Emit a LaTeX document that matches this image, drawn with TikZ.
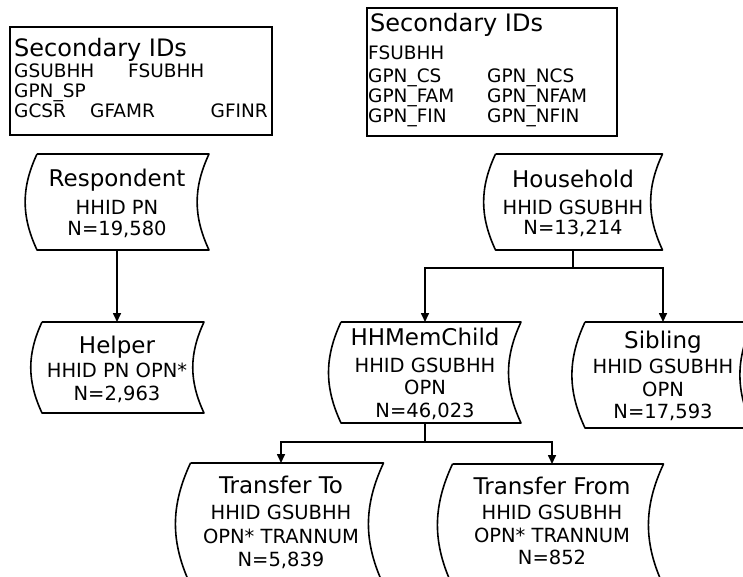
\documentclass[tikz,border=0pt]{standalone}
\usepackage{fontspec}
\setmainfont{DejaVu Sans}
\usetikzlibrary{arrows.meta}
\newcommand\myHdr{\fontsize{24}{24}\selectfont}
\newcommand\myItm{\fontsize{18.5}{18.5}\selectfont}
\newcommand\myTtl{\fontsize{23}{23}\selectfont}
\newcommand\myBdy{\fontsize{19.5}{19.5}\selectfont}
\tikzset{
  shapebox/.style={draw=none, rectangle, inner sep=0pt, outer sep=0pt},
  outline/.style={line width=1.6pt, line join=round},
  idbox/.style={draw, line width=1.6pt, rectangle, inner sep=0pt},
  lbl/.style={anchor=base, inner sep=0pt},
  lbw/.style={anchor=base west, inner sep=0pt},
  lbe/.style={anchor=base east, inner sep=0pt},
  conn/.style={line width=1.6pt},
  arr/.style={line width=1.6pt, -{Triangle[length=9pt,width=8pt]}},
}
\newcommand\storeoutline[1]{%
  \draw[outline] ([xshift=6pt]#1.north west) -- ([xshift=6pt]#1.north east)
    to[bend right=25] ([xshift=6pt]#1.south east) -- ([xshift=6pt]#1.south west)
    to[bend left=25] ([xshift=6pt]#1.north west);}
\begin{document}
\begin{tikzpicture}[x=1pt,y=-1pt]
\useasboundingbox (0,0) rectangle (743,576);
\clip (0,0) rectangle (743,576);
\fill[white] (0,0) rectangle (743,576);

% Secondary ID boxes
\node[idbox, minimum width=262pt, minimum height=108pt] (box1) at (141,81) {};
\node[lbw] (b1h) at (14,56) {\myHdr Secondary IDs};
\node[lbw] (b1a) at (14,77) {\myItm GSUBHH};
\node[lbw] (b1b) at (128,77) {\myItm FSUBHH};
\node[lbw] (b1c) at (14,97) {\myItm GPN\_SP};
\node[lbw] (b1d) at (14,117) {\myItm GCSR};
\node[lbw] (b1e) at (90,117) {\myItm GFAMR};
\node[lbe] (b1f) at (268,117) {\myItm GFINR};

\node[idbox, minimum width=250pt, minimum height=128pt] (box2) at (492,72) {};
\node[lbw] (b2h) at (370,31) {\myHdr Secondary IDs};
\node[lbw] (b2a) at (368,59) {\myItm FSUBHH};
\node[lbw] (b2b) at (368,82) {\myItm GPN\_CS};
\node[lbw] (b2c) at (487,82) {\myItm GPN\_NCS};
\node[lbw] (b2d) at (368,102) {\myItm GPN\_FAM};
\node[lbw] (b2e) at (487,102) {\myItm GPN\_NFAM};
\node[lbw] (b2f) at (368,122) {\myItm GPN\_FIN};
\node[lbw] (b2g) at (487,122) {\myItm GPN\_NFIN};

% Data nodes
\node[shapebox, minimum width=172pt, minimum height=96pt] (resp) at (117,202) {};
\storeoutline{resp}
\node[lbl] (respT) at (117,186) {\myTtl Respondent};
\node[lbl] (respA) at (117,214) {\myBdy HHID PN};
\node[lbl] (respB) at (117,235) {\myBdy N=19,580};

\node[shapebox, minimum width=162pt, minimum height=91pt] (help) at (117,367.5) {};
\storeoutline{help}
\node[lbl] (helpT) at (117,353) {\myTtl Helper};
\node[lbl] (helpA) at (117,377) {\myBdy HHID PN OPN*};
\node[lbl] (helpB) at (117,400) {\myBdy N=2,963};

\node[shapebox, minimum width=167pt, minimum height=96pt] (hh) at (573,202) {};
\storeoutline{hh}
\node[lbl] (hhT) at (573,187) {\myTtl Household};
\node[lbl] (hhA) at (573,214) {\myBdy HHID GSUBHH};
\node[lbl] (hhB) at (573,234) {\myBdy N=13,214};

\node[shapebox, minimum width=180pt, minimum height=101pt] (hhm) at (425,372.5) {};
\storeoutline{hhm}
\node[lbl] (hhmT) at (425,345) {\myTtl HHMemChild};
\node[lbl] (hhmA) at (425,372) {\myBdy HHID GSUBHH};
\node[lbl] (hhmB) at (425,394) {\myBdy OPN};
\node[lbl] (hhmC) at (425,417) {\myBdy N=46,023};

\node[shapebox, minimum width=168pt, minimum height=106pt] (sib) at (663,375) {};
\storeoutline{sib}
\node[lbl] (sibT) at (663,348) {\myTtl Sibling};
\node[lbl] (sibA) at (663,373) {\myBdy HHID GSUBHH};
\node[lbl] (sibB) at (663,396) {\myBdy OPN};
\node[lbl] (sibC) at (663,418) {\myBdy N=17,593};

\node[shapebox, minimum width=193pt, minimum height=122pt] (tto) at (281,524) {};
\storeoutline{tto}
\node[lbl] (ttoT) at (281,493) {\myTtl Transfer To};
\node[lbl] (ttoA) at (281,519) {\myBdy HHID GSUBHH};
\node[lbl] (ttoB) at (281,543) {\myBdy OPN* TRANNUM};
\node[lbl] (ttoC) at (281,566) {\myBdy N=5,839};

\node[shapebox, minimum width=211pt, minimum height=122pt] (tfr) at (552,525) {};
\storeoutline{tfr}
\node[lbl] (tfrT) at (552,494) {\myTtl Transfer From};
\node[lbl] (tfrA) at (552,519) {\myBdy HHID GSUBHH};
\node[lbl] (tfrB) at (552,542) {\myBdy OPN* TRANNUM};
\node[lbl] (tfrC) at (552,564) {\myBdy N=852};

% Connectors
\draw[arr] (resp.south) -- (help.north);
\coordinate (j1) at (573,268);
\draw[conn] (hh.south) -- (j1);
\draw[arr] (j1) -| (hhm.north);
\draw[arr] (j1) -| (sib.north);
\coordinate (j2) at (425,442);
\draw[conn] (hhm.south) -- (j2);
\draw[arr] (j2) -| (tto.north);
\draw[arr] (j2) -| (tfr.north);
\end{tikzpicture}
\end{document}
